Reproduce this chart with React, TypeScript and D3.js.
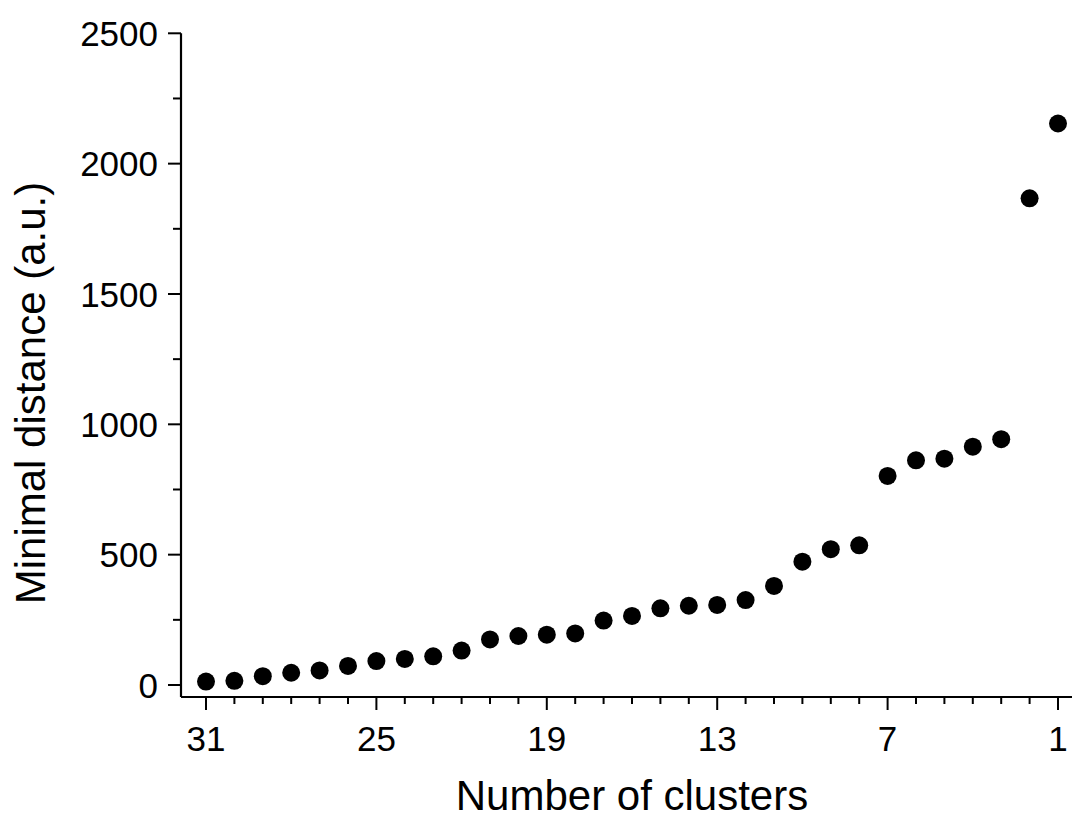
import React, { useEffect, useRef } from "react";
import * as d3 from "d3";

const clusters = [31,30,29,28,27,26,25,24,23,22,21,20,19,18,17,16,15,14,13,12,11,10,9,8,7,6,5,4,3,2,1];
const distances = [13,16,34,47,56,73,92,100,110,132,175,188,193,198,247,265,294,304,307,326,380,473,521,536,802,862,868,914,943,1867,2154];
const xTicks = [31,25,19,13,7,1];
const yTicks = [0,500,1000,1500,2000,2500];
const xTitle = "Number of clusters";
const yTitle = "Minimal distance (a.u.)";

export default function App() {
  const ref = useRef<SVGSVGElement>(null);
  useEffect(() => {
    const svg = d3.select(ref.current);
    svg.selectAll("*").remove();
    const font = "'Liberation Sans', Arial, sans-serif";
    const x = d3.scaleLinear().domain([31, 1]).range([206, 1058]);
    const y = d3.scaleLinear().domain([0, 2500]).range([685, 33.3]);
    const axisX0 = 181, axisY0 = 697;

    svg.append("line").attr("x1", axisX0).attr("x2", 1072).attr("y1", axisY0).attr("y2", axisY0)
      .attr("stroke", "#000").attr("stroke-width", 2.2);
    svg.append("line").attr("x1", axisX0).attr("x2", axisX0).attr("y1", y(2500)).attr("y2", axisY0)
      .attr("stroke", "#000").attr("stroke-width", 2.2);

    for (let v = 31; v >= 0.5; v -= 1) {
      const major = xTicks.includes(v);
      svg.append("line").attr("x1", x(v)).attr("x2", x(v)).attr("y1", axisY0)
        .attr("y2", axisY0 + (major ? 13 : 7)).attr("stroke", "#000").attr("stroke-width", 2);
    }
    xTicks.forEach(v => {
      svg.append("text").attr("x", x(v)).attr("y", 751).attr("text-anchor", "middle")
        .attr("font-family", font).attr("font-size", 35).text(String(v));
    });
    for (let v = 0; v <= 2500; v += 250) {
      const major = v % 500 === 0;
      svg.append("line").attr("x1", axisX0 - (major ? 13 : 8)).attr("x2", axisX0).attr("y1", y(v)).attr("y2", y(v))
        .attr("stroke", "#000").attr("stroke-width", 2);
    }
    yTicks.forEach(v => {
      svg.append("text").attr("x", 158).attr("y", y(v)).attr("dy", "0.36em").attr("text-anchor", "end")
        .attr("font-family", font).attr("font-size", 35).text(String(v));
    });

    svg.append("text").attr("x", 632).attr("y", 810).attr("text-anchor", "middle")
      .attr("font-family", font).attr("font-size", 42).text(xTitle);
    svg.append("text").attr("transform", `translate(45,393) rotate(-90)`).attr("text-anchor", "middle")
      .attr("font-family", font).attr("font-size", 42).text(yTitle);

    svg.append("g").selectAll("circle").data(clusters.map((c, i) => ({ c, d: distances[i] })))
      .join("circle").attr("cx", p => x(p.c)).attr("cy", p => y(p.d)).attr("r", 9).attr("fill", "#000");
  }, []);
  return (
    <svg ref={ref} width={1072} height={818} style={{ position: "absolute", left: 0, top: 0, background: "#fff" }} />
  );
}
